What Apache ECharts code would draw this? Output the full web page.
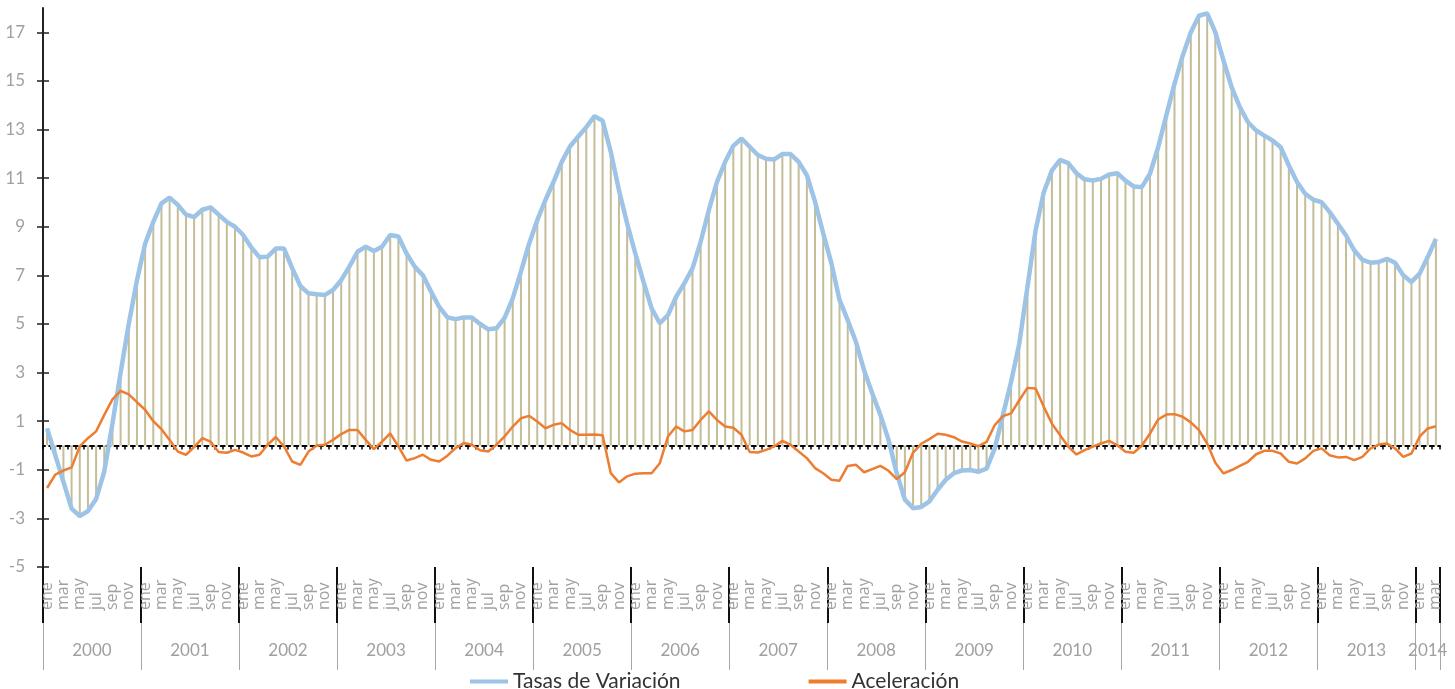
<!DOCTYPE html>
<html><head><meta charset="utf-8">
<script src="https://cdn.jsdelivr.net/npm/echarts@6/dist/echarts.min.js"></script>
<style>html,body{margin:0;padding:0;background:#fff}#c{width:1455px;height:689px}</style>
</head><body><div id="c"></div>
<script>
const monthNames = ['ene','feb','mar','abr','may','jun','jul','ago','sep','oct','nov','dic'];
const years = ['2000','2001','2002','2003','2004','2005','2006','2007','2008','2009','2010','2011','2012','2013','2014'];
const yTickLabels = [-5,-3,-1,1,3,5,7,9,11,13,15,17];

const tasas = [
  0.7,-0.4,-1.5,-2.6,-2.9,-2.7,-2.2,-1.07,0.9,3.0,5.0,6.8,
  8.3,9.2,9.96,10.2,9.9,9.5,9.4,9.7,9.8,9.5,9.2,9.0,
  8.66,8.15,7.74,7.77,8.1,8.1,7.3,6.56,6.26,6.22,6.19,6.4,
  6.8,7.36,7.97,8.18,8.0,8.18,8.66,8.6,7.9,7.36,7.0,6.33,
  5.7,5.27,5.2,5.27,5.27,5.0,4.78,4.82,5.25,6.05,7.15,8.3,
  9.27,10.1,10.85,11.67,12.3,12.7,13.1,13.55,13.36,12.08,10.5,9.14,
  7.9,6.74,5.64,5.03,5.37,6.12,6.67,7.29,8.38,9.68,10.85,11.67,
  12.33,12.63,12.29,11.95,11.8,11.77,11.99,11.99,11.67,11.12,10.03,8.73,
  7.5,5.99,5.16,4.27,3.1,2.15,1.26,0.23,-1.14,-2.23,-2.58,-2.53,
  -2.3,-1.82,-1.41,-1.14,-1.03,-1.01,-1.08,-0.95,-0.12,1.25,2.62,4.19,
  6.52,8.85,10.42,11.32,11.75,11.62,11.2,10.95,10.9,10.97,11.15,11.2,
  10.9,10.66,10.63,11.18,12.27,13.58,14.88,16.04,17.0,17.68,17.78,17.0,
  15.84,14.74,13.92,13.3,12.96,12.75,12.55,12.27,11.52,10.84,10.36,10.11,
  10.01,9.6,9.12,8.64,8.03,7.64,7.52,7.55,7.68,7.52,7.0,6.73,
  7.07,7.75,8.5
];
const aceleracion = [
  -1.75,-1.2,-1.03,-0.9,-0.04,0.3,0.58,1.26,1.9,2.25,2.1,1.78,
  1.47,1.0,0.67,0.23,-0.25,-0.38,-0.07,0.3,0.16,-0.27,-0.3,-0.18,
  -0.29,-0.45,-0.38,0.03,0.35,-0.04,-0.66,-0.8,-0.25,0.0,0.03,0.23,
  0.47,0.64,0.64,0.23,-0.15,0.16,0.5,-0.04,-0.62,-0.52,-0.38,-0.59,
  -0.66,-0.42,-0.11,0.1,0.03,-0.2,-0.25,0.03,0.37,0.78,1.12,1.22,
  0.99,0.71,0.85,0.92,0.64,0.44,0.44,0.45,0.42,-1.14,-1.52,-1.27,
  -1.16,-1.14,-1.14,-0.73,0.37,0.78,0.58,0.64,1.05,1.4,1.05,0.78,
  0.73,0.44,-0.27,-0.29,-0.18,-0.04,0.19,0.03,-0.25,-0.52,-0.93,-1.14,
  -1.41,-1.45,-0.84,-0.79,-1.1,-0.97,-0.84,-1.04,-1.38,-1.1,-0.29,0.07,
  0.26,0.48,0.44,0.34,0.16,0.08,-0.03,0.15,0.84,1.21,1.32,1.86,
  2.37,2.34,1.59,0.9,0.42,-0.05,-0.37,-0.19,-0.05,0.08,0.19,0.01,
  -0.26,-0.3,-0.01,0.49,1.07,1.27,1.29,1.18,0.95,0.63,0.08,-0.71,
  -1.15,-1.01,-0.84,-0.67,-0.36,-0.22,-0.22,-0.33,-0.67,-0.74,-0.53,-0.22,
  -0.12,-0.4,-0.49,-0.47,-0.6,-0.47,-0.12,0.04,0.08,-0.12,-0.47,-0.33,
  0.36,0.7,0.79
];

const categories = [];
years.forEach(y => monthNames.forEach(m => { if (categories.length < tasas.length) categories.push(m + ' ' + y); }));

const FONT = 'Lato, "Open Sans", sans-serif';
const GRAY = '#a0a0a0';

const chart = echarts.init(document.getElementById('c'), null, {renderer: 'canvas'});
chart.setOption({
  animation: false,
  backgroundColor: '#fff',
  grid: {left: 43, right: 15, top: 8, bottom: 122, containLabel: false},
  legend: {
    data: ['Tasas de Variación', 'Aceleración'],
    left: 465, top: 666,
    icon: 'rect', itemWidth: 38, itemHeight: 4, itemGap: 128,
    textStyle: {fontFamily: FONT, fontSize: 21, color: '#333'}
  },
  xAxis: [
    {
      type: 'category', data: categories, position: 'bottom', z: 3,
      axisLine: {onZero: true, onZeroAxisIndex: 0, lineStyle: {color: '#000', width: 2, type: [4, 4.17], dashOffset: 2}},
      axisTick: {show: true, interval: 0, length: 4, lineStyle: {color: '#000', width: 1.5}},
      axisLabel: {show: false}, splitLine: {show: false}
    },
    {
      type: 'category', data: categories, position: 'bottom', offset: 0,
      axisLine: {show: false, onZero: false},
      axisTick: {show: true, interval: (i) => i % 12 === 0, length: 56, lineStyle: {color: '#111', width: 2}},
      axisLabel: {
        interval: 1, rotate: 90, align: 'left', verticalAlign: 'middle', margin: 43,
        fontFamily: '"Open Sans", Lato, sans-serif', fontSize: 16, color: GRAY,
        formatter: (v, i) => monthNames[i % 12]
      },
      splitLine: {show: false}
    },
    {
      type: 'category', data: categories, position: 'bottom', offset: 56,
      axisLine: {show: false, onZero: false},
      axisTick: {show: true, interval: (i) => i % 12 === 0, length: 47, lineStyle: {color: '#a6a6a6', width: 1}},
      axisLabel: {
        interval: (i) => (i % 12 === 5) || (i === tasas.length - 2),
        margin: 19, fontFamily: FONT, fontSize: 17, color: GRAY,
        formatter: (v, i) => (i % 12 === 5) ? '{a|' + years[Math.floor(i / 12)] + '}' : '{b|' + years[Math.floor(i / 12)] + '}',
        rich: {
          a: {padding: [0, 0, 0, 8], fontFamily: FONT, fontSize: 17, color: GRAY},
          b: {fontFamily: FONT, fontSize: 17, color: GRAY}
        }
      },
      splitLine: {show: false}
    }
  ],
  yAxis: [
    {
      type: 'value', min: -5, max: 18, position: 'left',
      axisLine: {show: true, onZero: false, lineStyle: {color: '#222', width: 2}},
      axisTick: {show: true, customValues: yTickLabels, length: 6, lineStyle: {color: '#222', width: 1.5}},
      axisLabel: {customValues: yTickLabels, margin: 18, fontFamily: FONT, fontSize: 17, color: GRAY},
      splitLine: {show: false}
    },
    {
      type: 'value', min: -5, max: 18, position: 'left',
      axisLine: {show: false, onZero: false},
      axisTick: {show: true, inside: true, customValues: yTickLabels, length: 6, lineStyle: {color: '#222', width: 1.5}},
      axisLabel: {show: false},
      splitLine: {show: false}
    }
  ],
  series: [
    {
      name: 'drop', type: 'bar', data: tasas, xAxisIndex: 0, yAxisIndex: 0,
      barWidth: 2, itemStyle: {color: '#c4bd97'}, z: 1, silent: true
    },
    {
      name: 'Tasas de Variación', type: 'line', data: tasas, xAxisIndex: 0, yAxisIndex: 0,
      symbol: 'none', color: '#9dc3e6', lineStyle: {color: '#9dc3e6', width: 4.5}, z: 4
    },
    {
      name: 'Aceleración', type: 'line', data: aceleracion, xAxisIndex: 0, yAxisIndex: 0,
      symbol: 'none', color: '#ed7d31', lineStyle: {color: '#ed7d31', width: 2.5}, z: 5
    }
  ]
});
</script></body></html>
